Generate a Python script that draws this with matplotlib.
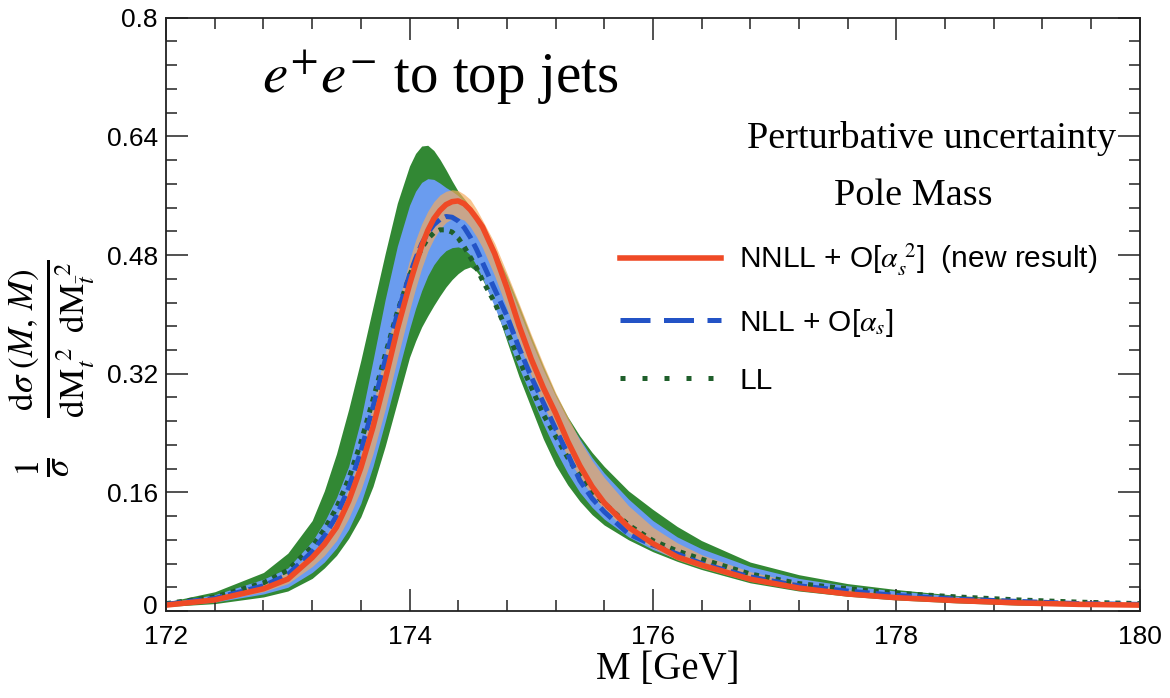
import matplotlib
matplotlib.use("Agg")
import matplotlib.pyplot as plt
import matplotlib.transforms as mtransforms
from matplotlib.lines import Line2D
from matplotlib.ticker import MultipleLocator

plt.rcParams['mathtext.fontset'] = 'stix'

# values
mass = [172.0, 172.4, 172.8, 173.0, 173.2, 173.3, 173.4, 173.5, 173.6, 173.7,
        173.8, 173.9, 174.0, 174.05, 174.1, 174.15, 174.2, 174.25, 174.3, 174.35,
        174.4, 174.45, 174.5, 174.55, 174.6, 174.7, 174.8, 174.9, 175.0, 175.1,
        175.2, 175.3, 175.4, 175.5, 175.6, 175.8, 176.0, 176.2, 176.4, 176.8,
        177.2, 177.6, 178.0, 178.5, 179.0, 179.5, 180.0]

# LL band (green)
ll_hi = [0.012, 0.026, 0.052, 0.078, 0.122, 0.162, 0.212, 0.272, 0.338, 0.410,
         0.482, 0.550, 0.600, 0.617, 0.627, 0.628, 0.621, 0.609, 0.595, 0.580,
         0.566, 0.556, 0.545, 0.532, 0.518, 0.488, 0.452, 0.412, 0.370, 0.330,
         0.293, 0.262, 0.236, 0.214, 0.195, 0.162, 0.137, 0.114, 0.095, 0.066,
         0.049, 0.037, 0.029, 0.021, 0.016, 0.012, 0.010]
ll_lo = [0.006, 0.010, 0.019, 0.027, 0.044, 0.058, 0.075, 0.098, 0.127, 0.168,
         0.222, 0.282, 0.342, 0.364, 0.383, 0.398, 0.412, 0.425, 0.437, 0.447,
         0.455, 0.461, 0.464, 0.458, 0.447, 0.413, 0.364, 0.316, 0.274, 0.232,
         0.197, 0.170, 0.148, 0.130, 0.116, 0.096, 0.080, 0.067, 0.056, 0.038,
         0.027, 0.020, 0.015, 0.011, 0.008, 0.007, 0.006]
# NLL band (light blue)
nll_hi = [0.011, 0.022, 0.043, 0.058, 0.094, 0.120, 0.153, 0.195, 0.258, 0.338,
          0.420, 0.492, 0.547, 0.566, 0.578, 0.583, 0.582, 0.577, 0.571, 0.566,
          0.560, 0.552, 0.542, 0.530, 0.516, 0.484, 0.446, 0.405, 0.364, 0.325,
          0.290, 0.258, 0.232, 0.207, 0.186, 0.151, 0.122, 0.100, 0.084, 0.060,
          0.044, 0.034, 0.027, 0.020, 0.015, 0.012, 0.010]
nll_lo = [0.007, 0.012, 0.023, 0.032, 0.052, 0.066, 0.085, 0.110, 0.145, 0.195,
          0.255, 0.318, 0.380, 0.408, 0.432, 0.452, 0.467, 0.478, 0.486, 0.490,
          0.491, 0.488, 0.480, 0.466, 0.449, 0.410, 0.368, 0.328, 0.290, 0.252,
          0.217, 0.186, 0.160, 0.140, 0.124, 0.100, 0.083, 0.070, 0.059, 0.042,
          0.031, 0.024, 0.019, 0.014, 0.011, 0.009, 0.008]
# NNLL band (orange)
nnll_hi = [0.010, 0.019, 0.038, 0.053, 0.077, 0.097, 0.127, 0.165, 0.212, 0.278,
           0.348, 0.410, 0.473, 0.500, 0.522, 0.539, 0.552, 0.561, 0.566, 0.568,
           0.567, 0.562, 0.555, 0.542, 0.527, 0.496, 0.456, 0.415, 0.373, 0.333,
           0.295, 0.262, 0.230, 0.203, 0.180, 0.142, 0.113, 0.092, 0.076, 0.053,
           0.038, 0.029, 0.022, 0.017, 0.013, 0.011, 0.009]
nnll_lo = [0.007, 0.013, 0.026, 0.037, 0.060, 0.075, 0.095, 0.125, 0.163, 0.212,
           0.272, 0.340, 0.405, 0.435, 0.462, 0.485, 0.502, 0.515, 0.524, 0.529,
           0.530, 0.527, 0.518, 0.505, 0.490, 0.452, 0.408, 0.362, 0.318, 0.278,
           0.243, 0.208, 0.180, 0.156, 0.137, 0.106, 0.085, 0.069, 0.058, 0.040,
           0.029, 0.022, 0.017, 0.013, 0.010, 0.008, 0.007]

# central curves
nnll = [0.008, 0.015, 0.030, 0.043, 0.072, 0.090, 0.113, 0.148, 0.193, 0.248,
        0.312, 0.380, 0.440, 0.467, 0.492, 0.513, 0.529, 0.540, 0.548, 0.552,
        0.553, 0.549, 0.541, 0.530, 0.518, 0.482, 0.436, 0.385, 0.340, 0.301,
        0.267, 0.229, 0.196, 0.168, 0.146, 0.113, 0.091, 0.073, 0.062, 0.043,
        0.031, 0.023, 0.018, 0.014, 0.011, 0.009, 0.008]
nll = [0.009, 0.017, 0.034, 0.049, 0.080, 0.101, 0.128, 0.166, 0.215, 0.275,
       0.338, 0.400, 0.453, 0.475, 0.495, 0.510, 0.521, 0.528, 0.532, 0.531,
       0.526, 0.517, 0.504, 0.488, 0.470, 0.434, 0.398, 0.355, 0.316, 0.281,
       0.246, 0.212, 0.176, 0.152, 0.134, 0.104, 0.089, 0.077, 0.064, 0.046,
       0.034, 0.027, 0.021, 0.016, 0.013, 0.010, 0.009]
ll = [0.010, 0.019, 0.038, 0.055, 0.087, 0.110, 0.139, 0.178, 0.227, 0.285,
      0.345, 0.403, 0.452, 0.472, 0.489, 0.502, 0.510, 0.514, 0.514, 0.511,
      0.503, 0.491, 0.477, 0.463, 0.446, 0.416, 0.378, 0.339, 0.302, 0.265,
      0.236, 0.207, 0.182, 0.162, 0.145, 0.116, 0.095, 0.081, 0.070, 0.050,
      0.037, 0.030, 0.024, 0.019, 0.015, 0.012, 0.010]

labels = [r'NNLL + O[$\alpha_s^{\ 2}$]  (new result)',
          r'NLL + O[$\alpha_s$]',
          'LL']

green = '#328834'
lightblue = '#6a9cef'
orange = '#f6aa5c'
red = '#ef4a26'
blue = '#2353c6'
dkgreen = '#1f5f2b'

fig = plt.figure(figsize=(11.7, 6.98), dpi=100)
ax = fig.add_axes([0.142, 0.1246, 0.832, 0.850])

ax.fill_between(mass, ll_lo, ll_hi, color=green, lw=0)
ax.fill_between(mass, nll_lo, nll_hi, color=lightblue, lw=0)
ax.fill_between(mass, nnll_lo, nnll_hi, color=orange, alpha=0.68, lw=0)

ax.plot(mass, ll, color=dkgreen, lw=3.6, linestyle=(0, (1, 1.2)), dash_capstyle='butt')
ax.plot(mass, nll, color=blue, lw=3.6, linestyle=(0, (3, 1.2)), dash_capstyle='butt')
ax.plot(mass, nnll, color=red, lw=4)

ax.set_xlim(172, 180)
ax.set_ylim(0, 0.8)
ax.set_xticks([172, 174, 176, 178, 180])
ax.set_yticks([0, 0.16, 0.32, 0.48, 0.64, 0.8])
ax.set_yticklabels(['0', '0.16', '0.32', '0.48', '0.64', '0.8'])
ax.xaxis.set_minor_locator(MultipleLocator(0.4))
ax.yaxis.set_minor_locator(MultipleLocator(0.032))
ax.tick_params(which='both', direction='in', top=True, right=True, width=1.1, color='#222222')
ax.tick_params(which='major', length=16)
ax.tick_params(which='minor', length=8)
ax.tick_params(axis='x', pad=10)
ax.tick_params(axis='y', pad=6)
for lab in ax.get_xticklabels() + ax.get_yticklabels():
    lab.set_family('Liberation Sans')
    lab.set_fontsize(19)
# nudge the "0" label up a little so it sits clear of "172"
zero_lab = ax.get_yticklabels()[0]
zero_lab.set_transform(zero_lab.get_transform() +
                       mtransforms.ScaledTranslation(0, 5 / 72, fig.dpi_scale_trans))
for sp in ax.spines.values():
    sp.set_linewidth(1.3)
    sp.set_color('#222222')

ax.set_xlabel('M [GeV]', family='Liberation Serif', fontsize=28)
ax.xaxis.set_label_coords(0.515, -0.068)
ax.set_ylabel(r'$\frac{1}{\sigma}\quad\frac{\mathrm{d}\sigma\;(M,\,M)}'
              r'{\mathrm{dM}_t^{\;\,2}\;\;\mathrm{dM}_{\bar{t}}^{\;\,2}}$',
              fontsize=36)
ax.yaxis.set_label_coords(-0.072, 0.41)

ax.text(0.098, 0.872, r'$e^{+}e^{-}$ to top jets', transform=ax.transAxes,
        family='Liberation Serif', fontsize=41, va='baseline')
ax.text(0.786, 0.781, 'Perturbative uncertainty', transform=ax.transAxes,
        family='Liberation Serif', fontsize=27.5, ha='center', va='baseline')
ax.text(0.767, 0.685, 'Pole Mass', transform=ax.transAxes,
        family='Liberation Serif', fontsize=27.5, ha='center', va='baseline')

handles = [Line2D([], [], color=red, lw=4),
           Line2D([], [], color=blue, lw=3.6, linestyle=(0, (6, 2.7)), dash_capstyle='butt'),
           Line2D([], [], color=dkgreen, lw=3.6, linestyle=(0, (1, 3.4)), dash_capstyle='butt')]
leg = ax.legend(handles, labels, loc='upper left', bbox_to_anchor=(0.466, 0.622),
                frameon=False, borderpad=0, borderaxespad=0, handlelength=3.4,
                handletextpad=0.6, labelspacing=0.95,
                prop={'family': 'Liberation Sans', 'size': 21.5})

fig.savefig('out.png', dpi=100)
